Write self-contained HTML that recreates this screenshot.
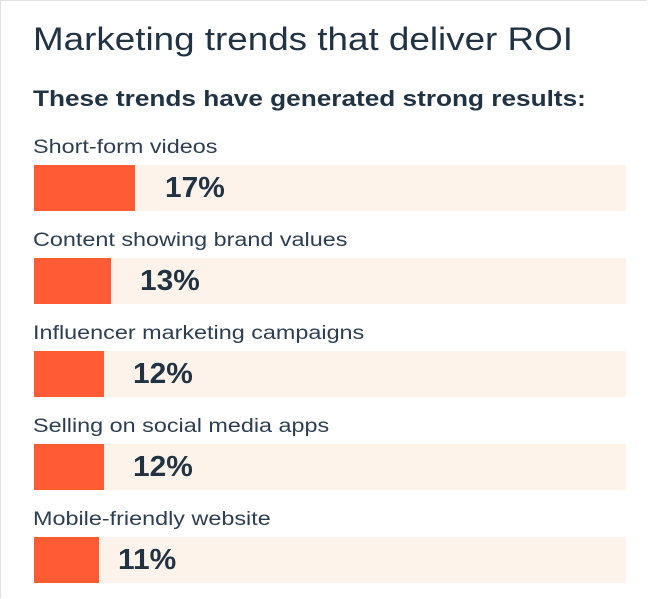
<!DOCTYPE html>
<html><head><meta charset="utf-8"><style>
body{margin:0;width:648px;height:599px;background:#fff;font-family:"Liberation Sans",sans-serif;color:#213343;position:relative;overflow:hidden}
.frame{position:absolute;left:0;top:0;width:646px;height:597px;border:1px solid #e2e2e2;border-right:none;border-bottom:none}
.t,.s,.l,.p{line-height:1;white-space:nowrap;transform-origin:0 0}
.t{position:absolute;left:33px;top:23px;font-size:32px;transform:scaleX(1.15)}
.s{position:absolute;left:33px;top:88px;font-size:22px;font-weight:bold;transform:scaleX(1.19)}
.l{position:absolute;left:33px;font-size:19px;color:#2d3e50;transform:scaleX(1.23)}
.b{position:absolute;left:34px;width:592px;height:46px;background:#fdf3ea}
.o{position:absolute;left:0;top:0;height:46px;background:#ff5c35}
.p{position:absolute;top:9px;font-size:29px;font-weight:bold;color:#213343;transform:scaleX(1.03)}
</style></head><body>
<div class="frame"></div>
<div class="t">Marketing trends that deliver ROI</div>
<div class="s">These trends have generated strong results:</div>

<div class="l" style="top:138px">Short-form videos</div>
<div class="b" style="top:165px"><div class="o" style="width:101px"></div><div class="p" style="left:131px">17%</div></div>

<div class="l" style="top:231px">Content showing brand values</div>
<div class="b" style="top:258px"><div class="o" style="width:77px"></div><div class="p" style="left:106px">13%</div></div>

<div class="l" style="top:324px">Influencer marketing campaigns</div>
<div class="b" style="top:351px"><div class="o" style="width:70px"></div><div class="p" style="left:99px">12%</div></div>

<div class="l" style="top:417px">Selling on social media apps</div>
<div class="b" style="top:444px"><div class="o" style="width:70px"></div><div class="p" style="left:99px">12%</div></div>

<div class="l" style="top:510px">Mobile-friendly website</div>
<div class="b" style="top:537px"><div class="o" style="width:65px"></div><div class="p" style="left:84px">11%</div></div>
</body></html>
